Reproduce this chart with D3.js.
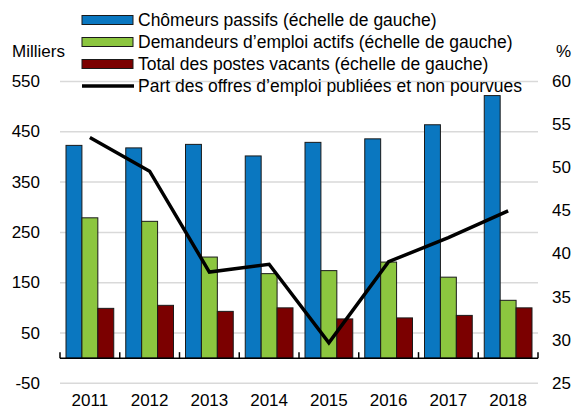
<!DOCTYPE html>
<html>
<head>
<meta charset="utf-8">
<script src="https://cdn.jsdelivr.net/npm/d3@7"></script>
<style>
  body { margin: 0; background: #fff; }
  text { font-family: 'Liberation Sans', Arial, sans-serif; font-size: 17px; fill: #000; }
  .leg { font-size: 17.5px; }
</style>
</head>
<body>
<div id="chart"></div>
<script>
// data
const years = ["2011", "2012", "2013", "2014", "2015", "2016", "2017", "2018"];
const passifs = [423, 418, 425, 402, 429, 436, 464, 522];
const actifs = [279, 272, 201, 168, 174, 191, 161, 115];
const vacants = [99, 105, 93, 100, 78, 80, 85, 100];
const partOffres = [53.5, 49.6, 37.9, 38.8, 29.7, 39.1, 41.9, 45.0];
const leftTicks = [-50, 50, 150, 250, 350, 450, 550];
const rightTicks = [25, 30, 35, 40, 45, 50, 55, 60];

const seriesNames = ["Chômeurs passifs (échelle de gauche)",
                     "Demandeurs d’emploi actifs (échelle de gauche)",
                     "Total des postes vacants (échelle de gauche)"];
const lineName = "Part des offres d’emploi publiées et non pourvues";
const colors = ["#0a77c0", "#8cc63f", "#7b0000"];

var width = 582, height = 409;
var plotLeft = 60, plotRight = 538, plotTop = 81.5, plotBottom = 383.3;

let svg = d3.select("#chart").append("svg").attr("width", width).attr("height", height);

let x0 = d3.scaleBand().domain(years).range([plotLeft, plotRight]);
let x1 = d3.scaleBand().domain([0, 1, 2]).range([6, x0.bandwidth() - 6]);
let y = d3.scaleLinear().domain([-50, 550]).range([plotBottom, plotTop]);
let yR = d3.scaleLinear().domain([25, 60]).range([plotBottom, plotTop]);

// gridlines
svg.append("g").selectAll("line").data(leftTicks).join("line")
    .attr("x1", plotLeft).attr("x2", plotRight)
    .attr("y1", d => y(d)).attr("y2", d => y(d))
    .attr("stroke", "#d9d9d9").attr("stroke-width", 1.5);

// left axis labels
svg.append("g").selectAll("text").data(leftTicks).join("text")
    .attr("x", 40).attr("y", d => y(d)).attr("text-anchor", "end")
    .attr("dominant-baseline", "central").text(d => d);

// right axis labels
svg.append("g").selectAll("text").data(rightTicks).join("text")
    .attr("x", 552).attr("y", d => yR(d)).attr("text-anchor", "start")
    .attr("dominant-baseline", "central").text(d => d);

svg.append("text").attr("x", 12).attr("y", 51).attr("dominant-baseline", "central").text("Milliers");
svg.append("text").attr("x", 556).attr("y", 51).attr("dominant-baseline", "central").text("%");

// bars
let data = [passifs, actifs, vacants];
let groups = svg.append("g").selectAll("g").data(years).join("g")
    .attr("transform", d => `translate(${x0(d)},0)`);
groups.selectAll("rect").data((d, i) => data.map((s, k) => ({k: k, v: s[i]}))).join("rect")
    .attr("x", d => x1(d.k)).attr("width", x1.bandwidth())
    .attr("y", d => y(d.v)).attr("height", d => y(0) - y(d.v))
    .attr("fill", d => colors[d.k]).attr("stroke", "#1a1a1a").attr("stroke-width", 1);

// x axis
let xAxis = svg.append("g").attr("transform", `translate(0,${y(0)})`);
xAxis.append("line").attr("x1", plotLeft).attr("x2", plotRight).attr("stroke", "#000").attr("stroke-width", 1.5);
xAxis.selectAll("line.tick").data(years.concat(["end"])).join("line").attr("class", "tick")
    .attr("x1", d => d == "end" ? plotRight : x0(d)).attr("x2", d => d == "end" ? plotRight : x0(d))
    .attr("y1", 0).attr("y2", -6).attr("stroke", "#000").attr("stroke-width", 1.5);

svg.append("g").selectAll("text").data(years).join("text")
    .attr("x", d => x0(d) + x0.bandwidth() / 2).attr("y", 400)
    .attr("text-anchor", "middle").attr("dominant-baseline", "central").text(d => d);

// line on right scale
let line = d3.line().x((d, i) => x0(years[i]) + x0.bandwidth() / 2).y(d => yR(d));
svg.append("path").datum(partOffres).attr("d", line)
    .attr("fill", "none").attr("stroke", "#000").attr("stroke-width", 3.5);

// legend
let legend = svg.append("g");
let rows = [20, 42, 64];
seriesNames.forEach((name, i) => {
    legend.append("rect").attr("x", 82).attr("y", rows[i] - 4.5).attr("width", 51).attr("height", 9)
        .attr("fill", colors[i]).attr("stroke", "#1a1a1a").attr("stroke-width", 1);
    legend.append("text").attr("class", "leg").attr("x", 138).attr("y", rows[i]).attr("dominant-baseline", "central").text(name);
});
legend.append("line").attr("x1", 82).attr("x2", 134).attr("y1", 86).attr("y2", 86)
    .attr("stroke", "#000").attr("stroke-width", 3.5);
legend.append("text").attr("class", "leg").attr("x", 138).attr("y", 86).attr("dominant-baseline", "central").text(lineName);
</script>
</body>
</html>
